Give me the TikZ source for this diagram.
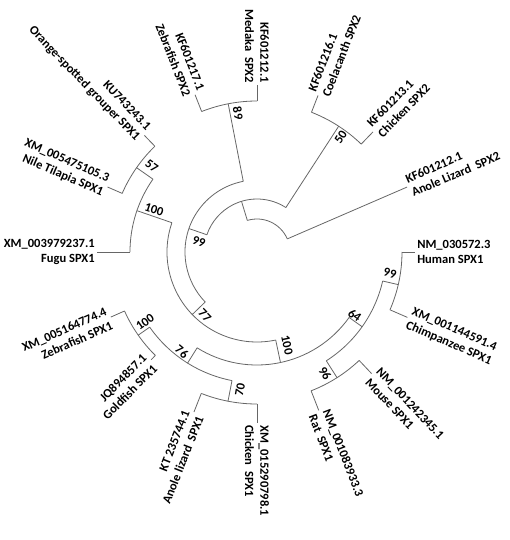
\documentclass[tikz,border=0pt]{standalone}
\usepackage{fontspec}
\setmainfont{Carlito}
\begin{document}
\begin{tikzpicture}[x=0.75pt,y=0.75pt,
  branch/.style={black!60, line width=0.6pt},
  leafr/.style={anchor=west, align=left, inner sep=1.5pt, font=\bfseries\fontsize{9.4}{11.3}\selectfont},
  leafl/.style={anchor=east, align=right, inner sep=1.5pt, font=\bfseries\fontsize{9.4}{11.3}\selectfont},
  boot/.style={inner sep=0pt, font=\bfseries\fontsize{9.4}{11}\selectfont}]
  \useasboundingbox (-257,-288) rectangle (253,252);

  % Internal nodes (angle:radius) and the points they hang from
  \coordinate (nA0) at (107:33);    \coordinate (nA) at (107:53);
  \coordinate (n50a) at (57:53);    \coordinate (n50) at (57:150);
  \coordinate (nB0) at (161:53);    \coordinate (nB) at (161:72);
  \coordinate (nC0) at (101:72);    \coordinate (nC) at (101:151);
  \coordinate (nD0) at (224:72);    \coordinate (nD) at (224:90);
  \coordinate (nE0) at (161:90);    \coordinate (nE) at (161:127);
  \coordinate (n57a) at (145:127);  \coordinate (n57) at (145:147);
  \coordinate (nF0) at (282:90);    \coordinate (nF) at (282:113);
  \coordinate (nG0) at (238:113);   \coordinate (nG) at (238:131);
  \coordinate (nH0) at (215:131);   \coordinate (nH) at (215:145);
  \coordinate (nI0) at (259:131);   \coordinate (nI) at (259:152);
  \coordinate (nJ0) at (324.6:113); \coordinate (nJ) at (324.6:129);
  \coordinate (nK0) at (347:129);   \coordinate (nK) at (347:145);
  \coordinate (nL0) at (302.5:129); \coordinate (nL) at (302.5:149);

  % Radial branches between nodes
  \draw[branch] (nA0) -- (nA);
  \draw[branch] (n50a) -- (n50);
  \draw[branch] (nB0) -- (nB);
  \draw[branch] (nC0) -- (nC);
  \draw[branch] (nD0) -- (nD);
  \draw[branch] (nE0) -- (nE);
  \draw[branch] (n57a) -- (n57);
  \draw[branch] (nF0) -- (nF);
  \draw[branch] (nG0) -- (nG);
  \draw[branch] (nH0) -- (nH);
  \draw[branch] (nI0) -- (nI);
  \draw[branch] (nJ0) -- (nJ);
  \draw[branch] (nK0) -- (nK);
  \draw[branch] (nL0) -- (nL);

  % Arcs of the internal nodes
  \draw[branch] (23.4:33) arc[start angle=23.4, end angle=107, radius=33];
  \draw[branch] (57:53) arc[start angle=57, end angle=161, radius=53];
  \draw[branch] (46:150) arc[start angle=46, end angle=68.7, radius=150];
  \draw[branch] (101:72) arc[start angle=101, end angle=224, radius=72];
  \draw[branch] (90:151) arc[start angle=90, end angle=111.5, radius=151];
  \draw[branch] (161:90) arc[start angle=161, end angle=282, radius=90];
  \draw[branch] (145:127) arc[start angle=145, end angle=180, radius=127];
  \draw[branch] (134:147) arc[start angle=134, end angle=156.5, radius=147];
  \draw[branch] (238:113) arc[start angle=238, end angle=324.6, radius=113];
  \draw[branch] (215:131) arc[start angle=215, end angle=259, radius=131];
  \draw[branch] (204:145) arc[start angle=204, end angle=225.5, radius=145];
  \draw[branch] (248.5:152) arc[start angle=248.5, end angle=270, radius=152];
  \draw[branch] (302.5:129) arc[start angle=302.5, end angle=347, radius=129];
  \draw[branch] (336.5:145) arc[start angle=336.5, end angle=360, radius=145];
  \draw[branch] (291.3:149) arc[start angle=291.3, end angle=313.3, radius=149];

  % Leaves, right half
  \node[leafr, rotate=23.4] (anole2) at (23.4:163.5) {KF601212.1\\Anole Lizard\ \ SPX2};
  \node[leafr, rotate=46] (chick2) at (46:167) {KF601213.1\\Chicken SPX2};
  \node[leafr, rotate=68.7] (coel) at (68.7:168) {KF601216.1\\Coelacanth SPX2};
  \node[leafr, rotate=-90] (chick1) at (270:171) {XM\_015290798.1\\Chicken\ \ SPX1};
  \node[leafr, rotate=-68.7] (rat) at (291.3:170) {NM\_001083933.3\\Rat\ \ SPX1};
  \node[leafr, rotate=-46.7] (mouse) at (313.3:167) {NM\_001242345.1\\Mouse SPX1};
  \node[leafr, rotate=-23.5] (chimp) at (336.5:164) {XM\_001144591.4\\Chimpanzee SPX1};
  \node[leafr, rotate=0] (human) at (0:158) {NM\_030572.3\\Human SPX1};
  \draw[branch] (23.4:33) -- (anole2.west);
  \draw[branch] (46:150) -- (chick2.west);
  \draw[branch] (68.7:150) -- (coel.west);
  \draw[branch] (270:152) -- (chick1.west);
  \draw[branch] (291.3:149) -- (rat.west);
  \draw[branch] (313.3:149) -- (mouse.west);
  \draw[branch] (336.5:145) -- (chimp.west);
  \draw[branch] (0:145) -- (human.west);

  % Leaves, left half
  \node[leafl, rotate=-90] (medaka) at (90:167) {KF601212.1\\Medaka\ \ SPX2};
  \node[leafl, rotate=-68.5] (zeb2) at (111.5:169) {KF601217.1\\Zebrafish SPX2};
  \node[leafl, rotate=-46] (grouper) at (134:162) {KU743243.1\\Orange-spotted grouper SPX1};
  \node[leafl, rotate=-23.5] (tilapia) at (156.5:163) {XM\_005475105.3\\Nile Tilapia SPX1};
  \node[leafl, rotate=0] (fugu) at (180:160) {XM\_003979237.1\\Fugu SPX1};
  \node[leafl, rotate=24] (zeb1) at (204:160) {XM\_005164774.4\\Zebrafish SPX1};
  \node[leafl, rotate=45.5] (gold) at (225.5:151) {JQ894857.1\\Goldfish SPX1};
  \node[leafl, rotate=68.5] (anole1) at (248.5:172) {KT 235744.1\\Anole lizard\ \ SPX1};
  \draw[branch] (90:151) -- (medaka.east);
  \draw[branch] (111.5:151) -- (zeb2.east);
  \draw[branch] (134:147) -- (grouper.east);
  \draw[branch] (156.5:147) -- (tilapia.east);
  \draw[branch] (180:127) -- (fugu.east);
  \draw[branch] (204:145) -- (zeb1.east);
  \draw[branch] (225.5:145) -- (gold.east);
  \draw[branch] (248.5:152) -- (anole1.east);

  % Bootstrap values
  \node[boot, rotate=-79] (bs89) at (97.8:140) {89};
  \node[boot, rotate=57] (bs50) at (53.9:142) {50};
  \node[boot, rotate=-35] (bs57) at (140.7:136) {57};
  \node[boot, rotate=-18] (bsE) at (157.8:111) {100};
  \node[boot, rotate=-19] (bsB) at (170:59) {99};
  \node[boot, rotate=-46] (bs77) at (230.5:82) {77};
  \node[boot, rotate=-40] (bs76) at (233:125) {76};
  \node[boot, rotate=35] (bsH) at (212:132) {100};
  \node[boot, rotate=80] (bs70) at (263:139) {70};
  \node[boot, rotate=-78] (bsF) at (287.9:98) {100};
  \node[boot, rotate=-35] (bs64) at (327:116.5) {64};
  \node[boot, rotate=-58] (bs96) at (299.3:139) {96};
  \node[boot, rotate=-13] (bsK) at (351:134.6) {99};

\end{tikzpicture}
\end{document}
